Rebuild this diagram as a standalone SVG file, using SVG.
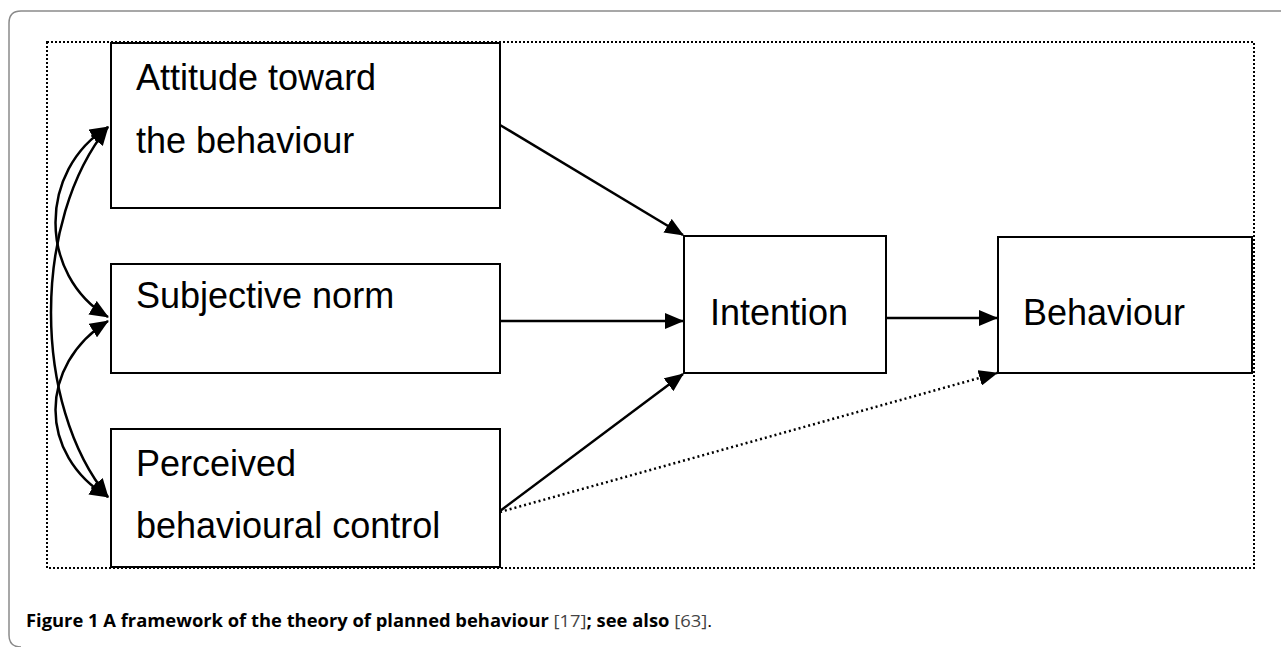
<svg xmlns="http://www.w3.org/2000/svg" width="1281" height="647" viewBox="0 0 1281 647">
<style>
.box{fill:#fff;stroke:#000;stroke-width:2}
.lbl{font-family:"Liberation Sans",Arial,sans-serif;font-size:36px;fill:#000}
.con{fill:none;stroke:#000;stroke-width:2.5}
.dot{fill:none;stroke:#000;stroke-width:2.5;stroke-dasharray:2 3}
.cap{font-family:"Open Sans","Noto Sans",sans-serif;font-size:17px;fill:#000}
</style>
<defs>
<marker id="ah" viewBox="0 0 19 16" refX="18" refY="8" markerWidth="19" markerHeight="16" markerUnits="userSpaceOnUse" orient="auto-start-reverse">
<path d="M0,0 L19,8 L0,16 z" fill="#000"/>
</marker>
</defs>
<rect width="1281" height="647" fill="#fff"/>
<path d="M1281,11 L21,11 Q9,11 9,23 L9,635 Q9,647 21,647" fill="none" stroke="#8a8a8a" stroke-width="1.5"/>
<rect x="47" y="42" width="1207" height="526" fill="none" stroke="#000" stroke-width="2" stroke-dasharray="2 2"/>
<g id="connectors">
<path class="con" d="M108,127 C38,170 38,275 108,317" marker-start="url(#ah)" marker-end="url(#ah)"/>
<path class="con" d="M108,321 C38,365 38,455 108,497" marker-start="url(#ah)" marker-end="url(#ah)"/>
<path class="con" d="M108,127 C32,220 32,405 108,497" marker-start="url(#ah)" marker-end="url(#ah)"/>
<path class="con" d="M500,125 L683,235" marker-end="url(#ah)"/>
<path class="con" d="M497,321 L683,321" marker-end="url(#ah)"/>
<path class="con" d="M500,511 L683,374" marker-end="url(#ah)"/>
<path class="dot" d="M500,512 L997,373" marker-end="url(#ah)"/>
<path class="con" d="M887,318 L997,318" marker-end="url(#ah)"/>
</g>
<g id="attitude">
<rect class="box" x="111" y="43" width="389" height="165"/>
<text class="lbl" x="136" y="90">Attitude toward</text>
<text class="lbl" x="136" y="153">the behaviour</text>
</g>
<g id="subjective">
<rect class="box" x="111" y="264" width="389" height="109"/>
<text class="lbl" x="136" y="308">Subjective norm</text>
</g>
<g id="perceived">
<rect class="box" x="111" y="429" width="389" height="138"/>
<text class="lbl" x="136" y="476">Perceived</text>
<text class="lbl" x="136" y="538">behavioural control</text>
</g>
<g id="intention">
<rect class="box" x="684" y="236" width="202" height="137"/>
<text class="lbl" x="710" y="325">Intention</text>
</g>
<g id="behaviour">
<rect class="box" x="998" y="237" width="254" height="136"/>
<text class="lbl" x="1023" y="325">Behaviour</text>
</g>
<text class="cap" x="26" y="627" textLength="686" lengthAdjust="spacingAndGlyphs"><tspan font-weight="bold">Figure 1</tspan><tspan font-weight="bold"> A framework of the theory of planned behaviour</tspan><tspan fill="#444"> [17]</tspan><tspan font-weight="bold">; see also</tspan><tspan fill="#444"> [63]</tspan>.</text>
</svg>
